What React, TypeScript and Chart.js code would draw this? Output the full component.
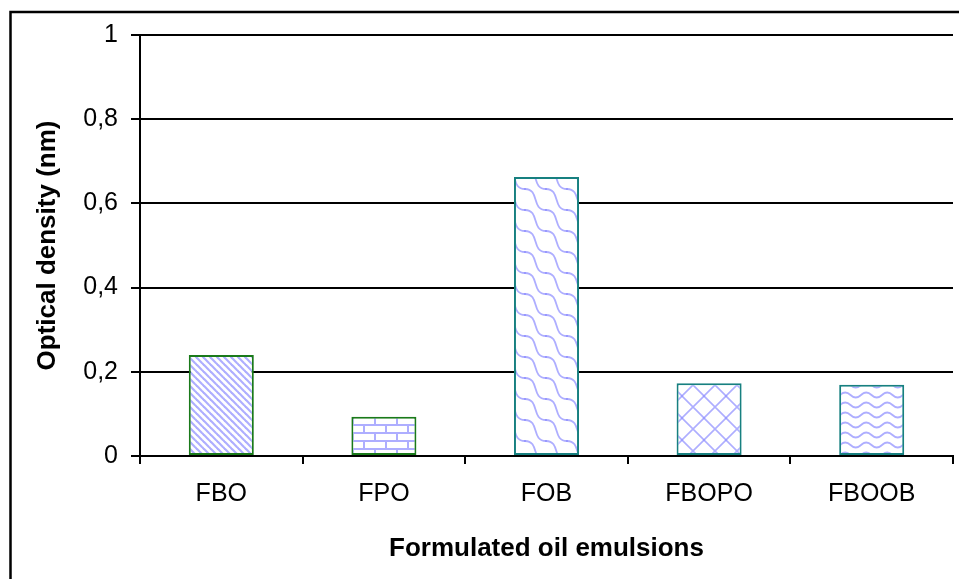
import React, { useEffect, useRef } from "react";
import { Chart, registerables } from "chart.js";

Chart.register(...registerables);

const categories = ["FBO", "FPO", "FOB", "FBOPO", "FBOOB"];
const values = [0.24, 0.093, 0.663, 0.173, 0.169];
const yTickLabels = ["0", "0,2", "0,4", "0,6", "0,8", "1"];
const borderColors = ["#1a7a1a", "#1a7a1a", "#178080", "#178080", "#178080"];
const patternKinds = ["diagonal", "brick", "weave", "cross", "wave"];

const FONT = "'Liberation Sans', Arial, sans-serif";
const PATTERN_COLOR = "rgba(120,120,255,0.6)";

function makeTile(kind: string): HTMLCanvasElement {
  const c = document.createElement("canvas");
  let w = 8, h = 8;
  if (kind === "diagonal") { w = 7; h = 7; }
  if (kind === "brick") { w = 22; h = 16; }
  if (kind === "weave") { w = 21; h = 21; }
  if (kind === "cross") { w = 22; h = 22; }
  if (kind === "wave") { w = 21; h = 10; }
  c.width = w;
  c.height = h;
  const g = c.getContext("2d")!;
  g.fillStyle = "#ffffff";
  g.fillRect(0, 0, w, h);
  g.strokeStyle = PATTERN_COLOR;
  g.lineCap = "round";
  if (kind === "diagonal") {
    g.lineWidth = 2.2;
    for (let k = -1; k <= 1; k++) {
      g.beginPath();
      g.moveTo(k * w, 0);
      g.lineTo(k * w + w, h);
      g.stroke();
    }
  } else if (kind === "brick") {
    g.lineWidth = 2;
    g.lineCap = "butt";
    g.beginPath();
    g.moveTo(0, 1); g.lineTo(w, 1);
    g.moveTo(0, 9); g.lineTo(w, 9);
    g.moveTo(1, 1); g.lineTo(1, 9);
    g.moveTo(12, 9); g.lineTo(12, 17);
    g.stroke();
  } else if (kind === "weave") {
    g.lineWidth = 1.8;
    for (let dx = -w; dx <= w; dx += w) {
      for (let dy = -h; dy <= h; dy += h) {
        g.beginPath();
        g.moveTo(dx, dy);
        g.bezierCurveTo(dx + 15, dy, dx + 6, dy + h, dx + w, dy + h);
        g.stroke();
      }
    }
  } else if (kind === "cross") {
    g.lineWidth = 1.6;
    for (let k = -1; k <= 1; k++) {
      g.beginPath();
      g.moveTo(k * w, 0);
      g.lineTo(k * w + w, h);
      g.moveTo(k * w + w, 0);
      g.lineTo(k * w, h);
      g.stroke();
    }
  } else if (kind === "wave") {
    g.lineWidth = 1.8;
    g.beginPath();
    g.moveTo(0, 5);
    g.quadraticCurveTo(w / 4, 0, w / 2, 5);
    g.quadraticCurveTo((3 * w) / 4, 10, w, 5);
    g.stroke();
  }
  return c;
}

export default function App() {
  const canvasRef = useRef<HTMLCanvasElement | null>(null);

  useEffect(() => {
    const canvas = canvasRef.current!;
    const ctx = canvas.getContext("2d")!;
    const patterns = patternKinds.map((k) => ctx.createPattern(makeTile(k), "repeat")!);

    const framePlugin = {
      id: "frame",
      beforeDraw(chart: any) {
        const c = chart.ctx;
        c.save();
        c.fillStyle = "#ffffff";
        c.fillRect(0, 0, chart.width, chart.height);
        c.restore();
      },
      afterDraw(chart: any) {
        const c = chart.ctx;
        c.save();
        c.strokeStyle = "#000";
        c.lineWidth = 2.5;
        c.strokeRect(10.5, 12, 2000, 2000);
        c.restore();
      },
    };

    Chart.defaults.color = "#000";
    Chart.defaults.font.family = FONT;

    const chart = new Chart(canvas, {
      type: "bar",
      data: {
        labels: categories,
        datasets: [
          {
            data: values,
            backgroundColor: patterns as any,
            borderColor: borderColors,
            borderWidth: 2,
            borderSkipped: false,
            categoryPercentage: 1,
            barPercentage: 0.4,
          },
        ],
      },
      options: {
        responsive: false,
        animation: false,
        layout: { padding: { left: 0, top: 35, right: 6, bottom: 0 } },
        plugins: {
          legend: { display: false },
          tooltip: { enabled: false },
        },
        scales: {
          x: {
            offset: true,
            grid: {
              offset: true,
              drawOnChartArea: false,
              drawTicks: true,
              tickLength: 8,
              color: "#000",
              lineWidth: 2,
            },
            border: { display: true, color: "#000", width: 2 },
            ticks: {
              font: { size: 25, lineHeight: 1.2 },
              padding: 15,
              color: "#000",
            },
            title: {
              display: true,
              text: "Formulated oil emulsions",
              font: { size: 26, weight: "bold", lineHeight: 1.2 },
              padding: { top: 0, bottom: 15 },
              color: "#000",
            },
            afterFit(scale: any) {
              scale.height = 123;
            },
          },
          y: {
            min: 0,
            max: 1,
            grid: {
              color: "#000",
              lineWidth: 2,
              drawTicks: true,
              tickLength: 9,
            },
            border: { display: true, color: "#000", width: 2 },
            ticks: {
              stepSize: 0.2,
              font: { size: 25, lineHeight: 1.2 },
              padding: 13,
              color: "#000",
              callback: (_v: any, i: number) => yTickLabels[i],
            },
            title: {
              display: true,
              text: "Optical density (nm)",
              font: { size: 26, weight: "bold", lineHeight: 1.2 },
              padding: { top: 32, bottom: 0 },
              color: "#000",
            },
            afterFit(scale: any) {
              scale.width = 140;
            },
          },
        },
      },
      plugins: [framePlugin],
    } as any);

    return () => chart.destroy();
  }, []);

  return (
    <canvas
      ref={canvasRef}
      width={959}
      height={579}
      style={{ position: "fixed", left: 0, top: 0, width: 959, height: 579 }}
    />
  );
}
